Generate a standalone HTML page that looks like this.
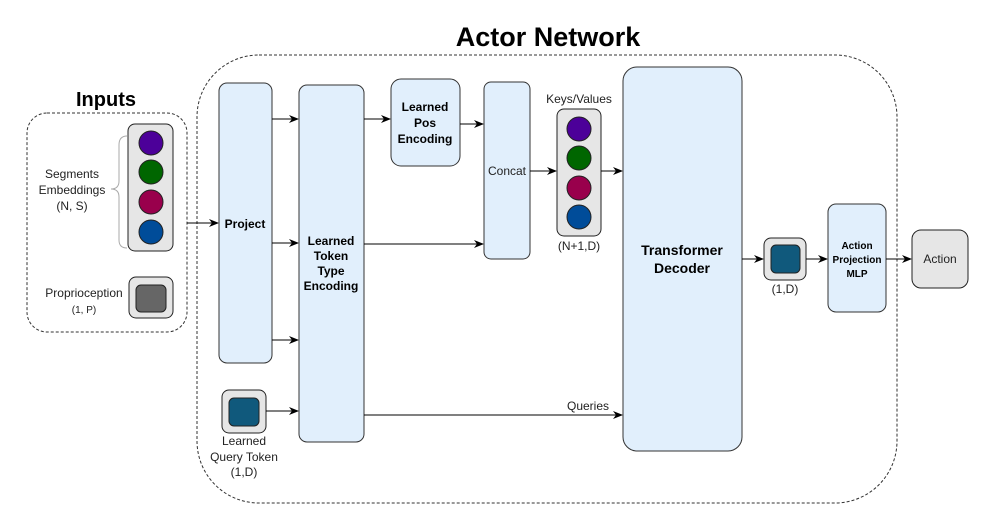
<!DOCTYPE html>
<html><head><meta charset="utf-8"><style>
html,body{margin:0;padding:0;background:#fff;}
svg{display:block;font-family:"Liberation Sans",Arial,sans-serif;}
</style></head><body>
<svg width="997" height="519" viewBox="0 0 997 519" xmlns="http://www.w3.org/2000/svg">
<defs>
<marker id="a" markerWidth="10" markerHeight="8" refX="9" refY="4" orient="auto" markerUnits="userSpaceOnUse">
<path d="M0,0 L10,4 L0,8 L3,4 Z" fill="#000"/></marker>
</defs>
<text x="548" y="46" font-size="27" font-weight="bold" text-anchor="middle">Actor Network</text>
<rect x="197" y="55" width="700" height="448" rx="62" fill="none" stroke="#333" stroke-dasharray="3,2"/>
<text x="106" y="106" font-size="20" font-weight="bold" text-anchor="middle">Inputs</text>
<rect x="27" y="113" width="160" height="219" rx="20" fill="none" stroke="#333" stroke-dasharray="3,2"/>
<!-- segments -->
<rect x="128" y="124" width="45" height="127" rx="7" fill="#e6e6e6" stroke="#222"/>
<circle cx="151" cy="143" r="12" fill="#4c0099" stroke="#222"/>
<circle cx="151" cy="172" r="12" fill="#006600" stroke="#222"/>
<circle cx="151" cy="202" r="12" fill="#99004c" stroke="#222"/>
<circle cx="151" cy="232" r="12" fill="#004c99" stroke="#222"/>
<path d="M127,136 Q119,136 119,145 L119,181 Q119,189 111,189 Q119,189 119,197 L119,240 Q119,248 127,248" fill="none" stroke="#aaa"/>
<g font-size="12" text-anchor="middle" fill="#222">
<text x="72" y="178">Segments</text><text x="72" y="194">Embeddings</text><text x="72" y="210">(N, S)</text>
<text x="84" y="297">Proprioception</text><text x="84" y="313" font-size="10">(1, P)</text>
</g>
<rect x="129" y="277" width="44" height="41" rx="7" fill="#e6e6e6" stroke="#222"/>
<rect x="136" y="285" width="30" height="27" rx="5" fill="#666" stroke="#222"/>
<line x1="187" y1="223" x2="218" y2="223" stroke="#000" marker-end="url(#a)"/>
<!-- project -->
<rect x="219" y="83" width="53" height="280" rx="8" fill="#e1effc" stroke="#333"/>
<text x="245" y="228" font-size="12" font-weight="bold" text-anchor="middle">Project</text>
<line x1="272" y1="119" x2="298" y2="119" stroke="#000" marker-end="url(#a)"/>
<line x1="272" y1="243" x2="298" y2="243" stroke="#000" marker-end="url(#a)"/>
<line x1="272" y1="340" x2="298" y2="340" stroke="#000" marker-end="url(#a)"/>
<!-- token type -->
<rect x="299" y="85" width="65" height="357" rx="8" fill="#e1effc" stroke="#333"/>
<g font-size="12" font-weight="bold" text-anchor="middle">
<text x="331" y="245">Learned</text><text x="331" y="260">Token</text><text x="331" y="275">Type</text><text x="331" y="290">Encoding</text>
</g>
<!-- query token -->
<rect x="222" y="390" width="44" height="43" rx="7" fill="#e6e6e6" stroke="#222"/>
<rect x="229" y="398" width="30" height="28" rx="5" fill="#10597c" stroke="#222"/>
<line x1="266" y1="411" x2="298" y2="411" stroke="#000" marker-end="url(#a)"/>
<g font-size="12" text-anchor="middle" fill="#222">
<text x="244" y="445">Learned</text><text x="244" y="461">Query Token</text><text x="244" y="476">(1,D)</text>
</g>
<!-- pos encoding -->
<rect x="391" y="79" width="69" height="87" rx="10" fill="#e1effc" stroke="#333"/>
<g font-size="12" font-weight="bold" text-anchor="middle">
<text x="425" y="111">Learned</text><text x="425" y="127">Pos</text><text x="425" y="143">Encoding</text>
</g>
<line x1="364" y1="119" x2="390" y2="119" stroke="#000" marker-end="url(#a)"/>
<!-- concat -->
<rect x="484" y="82" width="46" height="177" rx="7" fill="#e1effc" stroke="#333"/>
<text x="507" y="175" font-size="12" text-anchor="middle" fill="#222">Concat</text>
<line x1="460" y1="124" x2="483" y2="124" stroke="#000" marker-end="url(#a)"/>
<line x1="364" y1="244" x2="483" y2="244" stroke="#000" marker-end="url(#a)"/>
<line x1="530" y1="171" x2="556" y2="171" stroke="#000" marker-end="url(#a)"/>
<!-- keys -->
<text x="579" y="103" font-size="12" text-anchor="middle" fill="#222">Keys/Values</text>
<rect x="557" y="109" width="44" height="127" rx="7" fill="#e6e6e6" stroke="#222"/>
<circle cx="579" cy="129" r="12" fill="#4c0099" stroke="#222"/>
<circle cx="579" cy="158" r="12" fill="#006600" stroke="#222"/>
<circle cx="579" cy="188" r="12" fill="#99004c" stroke="#222"/>
<circle cx="579" cy="217" r="12" fill="#004c99" stroke="#222"/>
<text x="579" y="250" font-size="12" text-anchor="middle" fill="#222">(N+1,D)</text>
<line x1="601" y1="171" x2="622" y2="171" stroke="#000" marker-end="url(#a)"/>
<!-- decoder -->
<rect x="623" y="67" width="119" height="384" rx="14" fill="#e1effc" stroke="#333"/>
<text x="682" y="255" font-size="14" font-weight="bold" text-anchor="middle">Transformer</text>
<text x="682" y="273" font-size="14" font-weight="bold" text-anchor="middle">Decoder</text>
<line x1="364" y1="415" x2="622" y2="415" stroke="#000" marker-end="url(#a)"/>
<text x="588" y="410" font-size="12" text-anchor="middle" fill="#222">Queries</text>
<line x1="742" y1="259" x2="763" y2="259" stroke="#000" marker-end="url(#a)"/>
<rect x="764" y="238" width="42" height="42" rx="7" fill="#e6e6e6" stroke="#222"/>
<rect x="771" y="245" width="29" height="28" rx="5" fill="#10597c" stroke="#222"/>
<text x="785" y="293" font-size="12" text-anchor="middle" fill="#222">(1,D)</text>
<line x1="806" y1="259" x2="827" y2="259" stroke="#000" marker-end="url(#a)"/>
<rect x="828" y="204" width="58" height="108" rx="8" fill="#e1effc" stroke="#333"/>
<g font-size="10" font-weight="bold" text-anchor="middle">
<text x="857" y="249">Action</text><text x="857" y="263">Projection</text><text x="857" y="277">MLP</text>
</g>
<line x1="886" y1="259" x2="911" y2="259" stroke="#000" marker-end="url(#a)"/>
<rect x="912" y="230" width="56" height="58" rx="9" fill="#e6e6e6" stroke="#222"/>
<text x="940" y="263" font-size="12" text-anchor="middle" fill="#222">Action</text>
</svg>
</body></html>
